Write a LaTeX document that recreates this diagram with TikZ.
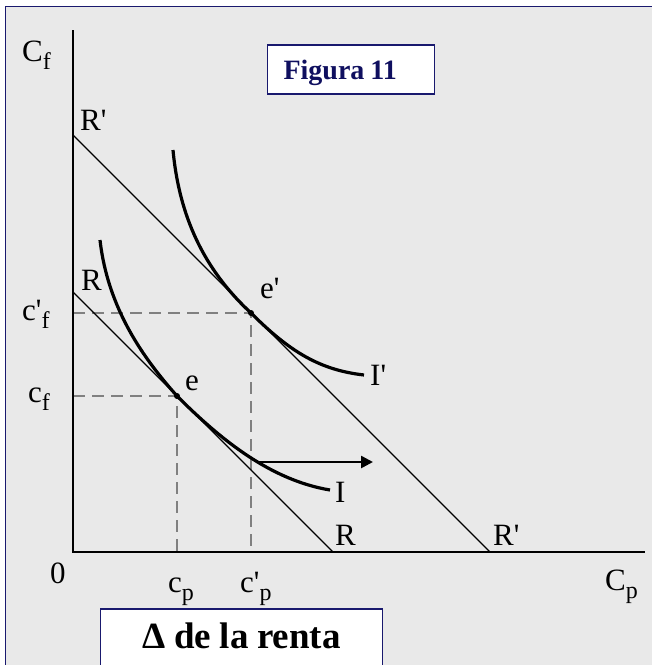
\documentclass[tikz,border=0pt]{standalone}
\usepackage{fontspec}
\setmainfont{Liberation Serif}[Ligatures=TeXOff]
\usetikzlibrary{arrows.meta}
\definecolor{navyb}{RGB}{25,25,110}
\definecolor{navyt}{RGB}{15,15,95}
\definecolor{bggray}{RGB}{233,233,233}
\definecolor{dashgray}{RGB}{128,128,128}
\newcommand\sbx[1]{\raisebox{-8pt}{\fontsize{24}{24}\selectfont #1}}
\newcommand\figfnt{\bfseries\fontsize{28}{28}\selectfont\spaceskip=6pt\relax}
\newcommand\delfnt{\bfseries\fontsize{37}{37}\selectfont\spaceskip=8.5pt\relax}
\begin{document}
\begin{tikzpicture}[x=1pt,y=-1pt,
 lab/.style={anchor=base west, inner sep=0pt, font=\fontsize{31}{31}\selectfont},
 axis/.style={line width=1.6pt},
 budget/.style={line width=1.2pt},
 icurve/.style={line width=3.2pt},
 guide/.style={dashgray, line width=1.3pt, dash pattern=on 12pt off 7pt},
 box/.style={draw=navyb, fill=white, line width=1.2pt, inner ysep=0pt},
 dot/.style={circle, fill=black, inner sep=0pt, minimum size=6pt}]
\useasboundingbox (0,0) rectangle (652,665);
\fill[white] (0,0) rectangle (652,665);
\draw[navyb, fill=bggray, line width=1pt] (5,6.5) rectangle (670,680);

% key points
\coordinate (O) at (73,552);
\coordinate (ytop) at (73,30);
\coordinate (xend) at (645,552);
\coordinate (Rp1) at (73,135);
\coordinate (Rp2) at (490,552);
\coordinate (R1) at (73,292);
\coordinate (R2) at (333,552);
\coordinate (yep) at (73,313);
\coordinate (xep) at (251,552);
\coordinate (ye) at (73,396);
\coordinate (xe) at (177,552);
\coordinate (a0) at (257,462);
\coordinate (a1) at (373,462);
\coordinate (I0) at (100,240);
\coordinate (I1) at (330,490);
\coordinate (J0) at (173,150);
\coordinate (J1) at (364,375);

% dashed guides
\draw[guide] (yep) -- (251,313) -- (xep);
\draw[guide] (ye) -- (177,396) -- (xe);

% budget lines
\draw[budget] (Rp1) -- (Rp2);
\draw[budget] (R1) -- (R2);

% indifference curves
\draw[icurve] (I0) .. controls (108,310) and (145,360) .. (177,396)
   .. controls (220,439) and (270,480) .. (I1);
\draw[icurve] (J0) .. controls (180,225) and (210,275) .. (251,313)
   .. controls (290,352) and (320,370) .. (J1);

% axes
\draw[axis] (ytop) -- (O) -- (xend);

% tangency points
\node[dot] (e) at (177,396) {};
\node[dot] (ep) at (251,313) {};

% shift arrow
\draw[line width=2.6pt, -{Triangle[length=12pt,width=12pt]}] (a0) -- (a1);

% labels
\node[lab] (lCf) at (22,61) {C\sbx{f}};
\node[lab] (lRpt) at (80,130) {R'};
\node[lab] (lRt) at (81,290) {R};
\node[lab] (lcpf) at (22,320) {c'\sbx{f}};
\node[lab] (lcf) at (28,402) {c\sbx{f}};
\node[lab] (le) at (185,390) {e};
\node[lab] (lep) at (260,298) {e'};
\node[lab] (l0) at (50,583) {0};
\node[lab] (lcp) at (168,592) {c\sbx{p}};
\node[lab] (lcpp) at (240,592) {c'\sbx{p}};
\node[lab] (lRb) at (335,545) {R};
\node[lab] (lRpb) at (493,545) {R'};
\node[lab] (lCp) at (605,590) {C\sbx{p}};
\node[lab] (lI) at (335,502) {I};
\node[lab] (lIp) at (370,385) {I'};

% boxes
\node[box, anchor=base west, inner xsep=16pt, text width=135pt, align=left,
      text height=34pt, text depth=15pt, text=navyt] (fig) at (267,79) {\figfnt Figura 11};
\node[box, anchor=base west, inner xsep=0pt, text width=282pt, align=center,
      text height=39pt, text depth=40pt] (delta) at (100,648) {\delfnt Δ de la renta};
\end{tikzpicture}
\end{document}
